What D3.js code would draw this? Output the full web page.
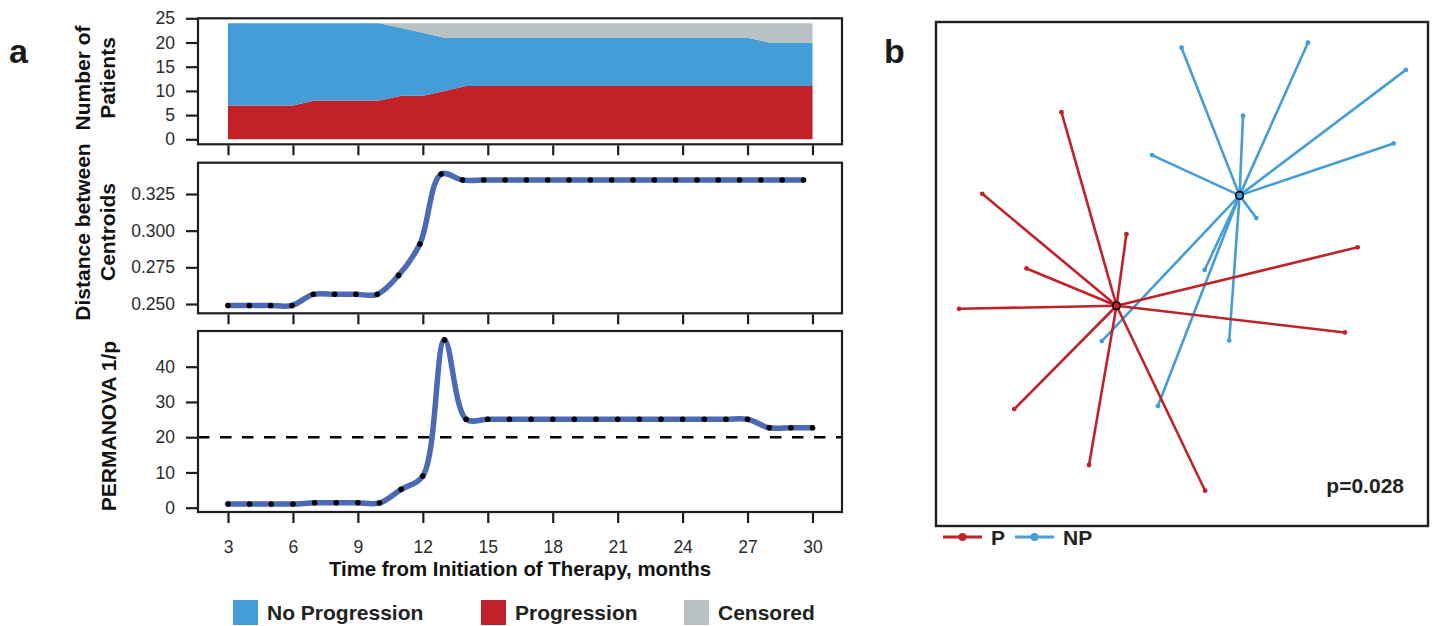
<!DOCTYPE html>
<html>
<head>
<meta charset="utf-8">
<script src="https://cdn.jsdelivr.net/npm/d3@7"></script>
<style>
  body { margin: 0; background: #fff; }
  svg { display: block; font-family: "Liberation Sans", Arial, Helvetica, sans-serif; }
</style>
</head>
<body>
<div id="chart"></div>
<script>
// ---- panel a data ----
const months = [3, 4, 5, 6, 7, 8, 9, 10, 11, 12, 13, 14, 15, 16, 17, 18, 19, 20, 21, 22, 23, 24, 25, 26, 27, 28, 29, 30];
const progression = [7, 7, 7, 7, 8, 8, 8, 8, 9, 9, 10, 11, 11, 11, 11, 11, 11, 11, 11, 11, 11, 11, 11, 11, 11, 11, 11, 11];
const noProgression = [17, 17, 17, 17, 16, 16, 16, 16, 14, 13, 11, 10, 10, 10, 10, 10, 10, 10, 10, 10, 10, 10, 10, 10, 10, 9, 9, 9];
const censored = [0, 0, 0, 0, 0, 0, 0, 0, 1, 2, 3, 3, 3, 3, 3, 3, 3, 3, 3, 3, 3, 3, 3, 3, 3, 4, 4, 4];
const centroidDistance = [0.249, 0.249, 0.249, 0.249, 0.2566, 0.2566, 0.2566, 0.2566, 0.2695, 0.2909, 0.3386,
  0.3345, 0.3345, 0.3345, 0.3345, 0.3345, 0.3345, 0.3345, 0.3345, 0.3345, 0.3345, 0.3345, 0.3345, 0.3345, 0.3345, 0.3345, 0.3345, 0.3345];
const permanovaInvP = [1.05, 1.05, 1.05, 1.05, 1.4, 1.4, 1.4, 1.35, 5.2, 9.0, 47.6,
  25.1, 25.1, 25.1, 25.1, 25.1, 25.1, 25.1, 25.1, 25.1, 25.1, 25.1, 25.1, 25.1, 25.1, 22.7, 22.7, 22.7];
const permThreshold = 20;

const monthTicks = [3, 6, 9, 12, 15, 18, 21, 24, 27, 30];
const countTicks = [0, 5, 10, 15, 20, 25];
const distTicks = [0.25, 0.275, 0.3, 0.325];
const permTicks = [0, 10, 20, 30, 40];
const stackKeys = ["progression", "noProgression", "censored"];
const legendLabels = ["No Progression", "Progression", "Censored"];

// ---- panel b data (ordination coordinates) ----
const pCentroid = [-0.133, -0.063];
const npCentroid = [0.117, 0.156];
const pSamples = [[-0.245, 0.321], [-0.406, 0.159], [-0.113, 0.079], [-0.316, 0.011], [0.357, 0.053],
  [-0.453, -0.069], [0.331, -0.116], [-0.341, -0.268], [-0.189, -0.379], [0.047, -0.430]];
const npSamples = [[-0.001, 0.449], [0.256, 0.459], [0.455, 0.405], [0.124, 0.314], [0.430, 0.259],
  [-0.061, 0.236], [0.151, 0.111], [0.046, 0.008], [-0.163, -0.133], [-0.049, -0.262], [0.096, -0.132]];
const groupLabels = ["P", "NP"];
const pValueText = "p=0.028";

const RED = "#c1222a", BLUE = "#449dd7", GREY = "#bac1c3", LINE = "#4a6ab5", INK = "#1e1e1e";

const svg = d3.select("#chart").append("svg").attr("width", 1435).attr("height", 626);

// ---- panel a ----
const boxL = 198, boxR = 842;
const x = d3.scaleLinear().domain([3, 30]).range([228, 812.5]);
const xMid = x.copy().range([x(3), x(30) - 9]);   // middle panel points sit slightly compressed

const panels = [
  { top: 18.3, bottom: 144.3, y: d3.scaleLinear().domain([0, 25]).range([139.3, 18.3]), ticks: countTicks, fmt: d3.format("d") },
  { top: 162.7, bottom: 313.3, y: d3.scaleLinear().domain([0.25, 0.325]).range([304, 194]), ticks: distTicks, fmt: d3.format(".3f") },
  { top: 331, bottom: 512, y: d3.scaleLinear().domain([0, 40]).range([507.7, 366.7]), ticks: permTicks, fmt: d3.format("d") }
];

// stacked area
const table = months.map((m, i) => ({ month: m, progression: progression[i], noProgression: noProgression[i], censored: censored[i] }));
const series = d3.stack().keys(stackKeys)(table);
const fills = { progression: RED, noProgression: BLUE, censored: GREY };
const area = d3.area()
  .x(d => x(d.data.month))
  .y0(d => panels[0].y(d[0]))
  .y1(d => panels[0].y(d[1]));
svg.append("g").selectAll("path").data(series).join("path")
  .attr("d", area)
  .attr("fill", d => fills[d.key]);

// centroid distance line
const lineMid = d3.line()
  .x((d, i) => xMid(months[i]))
  .y(d => panels[1].y(d))
  .curve(d3.curveCatmullRom.alpha(0.5));
svg.append("path").datum(centroidDistance)
  .attr("d", lineMid).attr("fill", "none").attr("stroke", LINE).attr("stroke-width", 5.5)
  .attr("stroke-linejoin", "round").attr("stroke-linecap", "round");
svg.append("g").selectAll("circle").data(centroidDistance).join("circle")
  .attr("cx", (d, i) => xMid(months[i])).attr("cy", d => panels[1].y(d)).attr("r", 2.8).attr("fill", "#000");

// permanova line
svg.append("line")
  .attr("x1", boxL).attr("x2", boxR)
  .attr("y1", panels[2].y(permThreshold)).attr("y2", panels[2].y(permThreshold))
  .attr("stroke", "#000").attr("stroke-width", 2.5).attr("stroke-dasharray", "11.5,10.5");
const lineBot = d3.line()
  .x((d, i) => x(months[i]))
  .y(d => panels[2].y(d))
  .curve(d3.curveCatmullRom.alpha(0.5));
svg.append("path").datum(permanovaInvP)
  .attr("d", lineBot).attr("fill", "none").attr("stroke", LINE).attr("stroke-width", 5.5)
  .attr("stroke-linejoin", "round").attr("stroke-linecap", "round");
svg.append("g").selectAll("circle").data(permanovaInvP).join("circle")
  .attr("cx", (d, i) => x(months[i])).attr("cy", d => panels[2].y(d)).attr("r", 2.8).attr("fill", "#000");

// boxes and axes
panels.forEach((p, k) => {
  svg.append("rect")
    .attr("x", boxL).attr("y", p.top).attr("width", boxR - boxL).attr("height", p.bottom - p.top)
    .attr("fill", "none").attr("stroke", INK).attr("stroke-width", 2.2);

  const ya = svg.append("g")
    .attr("transform", `translate(${boxL - 1},0)`)
    .call(d3.axisLeft(p.y).tickValues(p.ticks).tickFormat(p.fmt).tickSize(11).tickPadding(11));
  ya.select(".domain").remove();
  ya.selectAll("line").attr("stroke", INK).attr("stroke-width", 2.2);
  ya.selectAll("text").attr("font-size", 17.5).attr("fill", "#2b2b2b");

  const xa = svg.append("g")
    .attr("transform", `translate(0,${p.bottom + 1})`)
    .call(d3.axisBottom(x).tickValues(monthTicks).tickSize(10).tickPadding(18));
  xa.select(".domain").remove();
  xa.selectAll("line").attr("stroke", INK).attr("stroke-width", 2.2);
  xa.selectAll("text").attr("font-size", 17.5).attr("fill", "#2b2b2b");
  if (k < 2) xa.selectAll("text").remove();
});

// axis titles
const yTitles = [
  { lines: ["Number of", "Patients"], xs: [82, 107], cy: 78 },
  { lines: ["Distance between", "Centroids"], xs: [82, 107], cy: 232 },
  { lines: ["PERMANOVA 1/p"], xs: [108], cy: 426 }
];
yTitles.forEach(t => {
  t.lines.forEach((s, i) => {
    svg.append("text")
      .attr("transform", `translate(${t.xs[i]},${t.cy}) rotate(-90)`)
      .attr("text-anchor", "middle").attr("dominant-baseline", "central")
      .attr("font-size", 21).attr("font-weight", "bold").attr("fill", "#111")
      .text(s);
  });
});
svg.append("text")
  .attr("x", (boxL + boxR) / 2).attr("y", 576)
  .attr("text-anchor", "middle").attr("font-size", 20.4).attr("font-weight", "bold").attr("fill", "#111")
  .text("Time from Initiation of Therapy, months");

// legend a
const legendA = [
  { label: legendLabels[0], color: BLUE, x: 233 },
  { label: legendLabels[1], color: RED, x: 481 },
  { label: legendLabels[2], color: GREY, x: 684 }
];
const lg = svg.append("g").selectAll("g").data(legendA).join("g")
  .attr("transform", d => `translate(${d.x},600)`);
lg.append("rect").attr("width", 25).attr("height", 25).attr("fill", d => d.color);
lg.append("text").attr("x", 34).attr("y", 20)
  .attr("font-size", 21).attr("font-weight", "bold").attr("fill", "#222")
  .text(d => d.label);

svg.append("text").attr("x", 9).attr("y", 63).attr("font-size", 34).attr("font-weight", "bold").attr("fill", "#1a1a1a").text("a");

// ---- panel b ----
const bL = 936, bR = 1428, bT = 22, bB = 526;
const xb = d3.scaleLinear().domain([-0.5, 0.5]).range([bL, bR]);
const yb = d3.scaleLinear().domain([-0.5, 0.5]).range([bB, bT]);

const groups = [
  { name: groupLabels[1], color: BLUE, centroid: npCentroid, samples: npSamples },
  { name: groupLabels[0], color: RED, centroid: pCentroid, samples: pSamples }
];
groups.forEach(g => {
  const gg = svg.append("g");
  gg.selectAll("line").data(g.samples).join("line")
    .attr("x1", xb(g.centroid[0])).attr("y1", yb(g.centroid[1]))
    .attr("x2", d => xb(d[0])).attr("y2", d => yb(d[1]))
    .attr("stroke", g.color).attr("stroke-width", 2.6);
  gg.selectAll("circle").data(g.samples).join("circle")
    .attr("cx", d => xb(d[0])).attr("cy", d => yb(d[1])).attr("r", 2.4).attr("fill", g.color);
});
groups.forEach(g => {
  svg.append("circle")
    .attr("cx", xb(g.centroid[0])).attr("cy", yb(g.centroid[1])).attr("r", 3.8)
    .attr("fill", g.color).attr("stroke", "#000").attr("stroke-width", 1.6);
});

svg.append("rect").attr("x", bL).attr("y", bT).attr("width", bR - bL).attr("height", bB - bT)
  .attr("fill", "none").attr("stroke", INK).attr("stroke-width", 2.4);

svg.append("text").attr("x", 1404).attr("y", 493).attr("text-anchor", "end")
  .attr("font-size", 21).attr("font-weight", "bold").attr("fill", "#222").text(pValueText);

// legend b
const legendB = [
  { label: groupLabels[0], color: RED, x: 943 },
  { label: groupLabels[1], color: BLUE, x: 1015 }
];
const lb = svg.append("g").selectAll("g").data(legendB).join("g")
  .attr("transform", d => `translate(${d.x},537)`);
lb.append("line").attr("x1", 0).attr("x2", 39).attr("stroke", d => d.color).attr("stroke-width", 2.8);
lb.append("circle").attr("cx", 19.5).attr("r", 4).attr("fill", d => d.color);
lb.append("text").attr("x", 48).attr("y", 7.5)
  .attr("font-size", 21).attr("font-weight", "bold").attr("fill", "#222")
  .text(d => d.label);

svg.append("text").attr("x", 884).attr("y", 63).attr("font-size", 34).attr("font-weight", "bold").attr("fill", "#1a1a1a").text("b");
</script>
</body>
</html>
